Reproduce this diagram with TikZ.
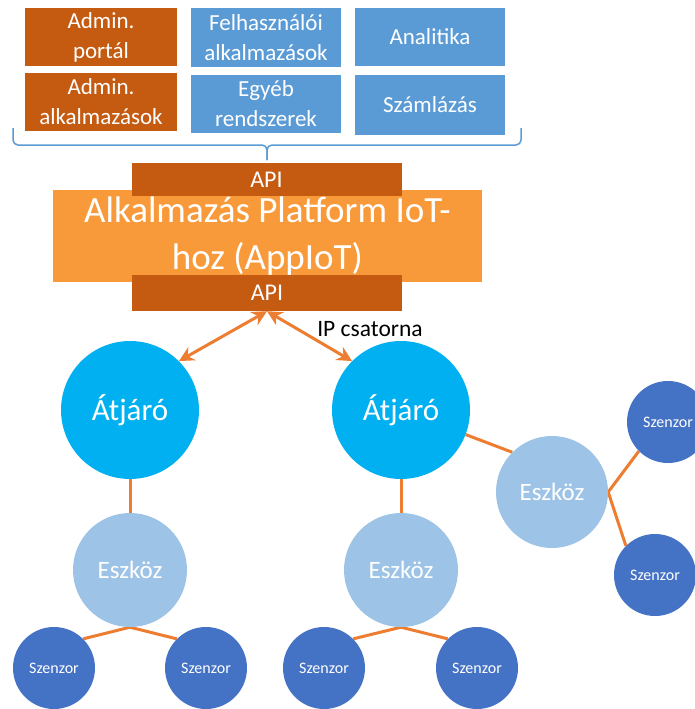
\documentclass[tikz,border=0pt]{standalone}
\usepackage{fontspec}
\setmainfont{Carlito}
\usetikzlibrary{arrows.meta}
\pgfdeclarelayer{background}
\pgfsetlayers{background,main}

\definecolor{darkor}{HTML}{C55A11}
\definecolor{bluebox}{HTML}{5B9BD5}
\definecolor{platform}{HTML}{F8993A}
\definecolor{gwblue}{HTML}{00B0F0}
\definecolor{devblue}{HTML}{9DC3E6}
\definecolor{sensblue}{HTML}{4472C4}
\definecolor{linkor}{HTML}{ED7D31}

\begin{document}
\begin{tikzpicture}[x=1pt,y=-1pt,
  appbox/.style={inner sep=0pt, text=white, align=center,
    font=\fontsize{23}{30}\selectfont},
  adminbox/.style={appbox, fill=darkor, minimum width=152pt, minimum height=58pt},
  userbox/.style={appbox, fill=bluebox, minimum width=150pt, minimum height=58pt},
  apibox/.style={inner sep=0pt, fill=darkor, text=white, minimum width=270pt,
    font=\fontsize{24}{29}\selectfont},
  gateway/.style={circle, fill=gwblue, minimum size=138pt, inner sep=0pt,
    text=white, font=\fontsize{31}{36}\selectfont},
  device/.style={circle, fill=devblue, minimum size=114pt, inner sep=0pt,
    text=white, font=\fontsize{25}{30}\selectfont},
  sensor/.style={circle, fill=sensblue, minimum size=82pt, inner sep=0pt,
    text=white, font=\fontsize{16}{20}\selectfont},
  link/.style={draw=linkor, line width=3pt},
  iparrow/.style={link, {Stealth[length=15pt,width=15pt,inset=5pt]}-{Stealth[length=15pt,width=15pt,inset=5pt]}},
]
\useasboundingbox (0,0) rectangle (694,709);

% application layer
\node[adminbox] (portal)    at (101,37)  {Admin.\\portál};
\node[adminbox] (adminapps) at (101,102) {Admin.\\alkalmazások};
\node[userbox, minimum height=59pt] (userapps) at (266,37.5) {Felhasználói\\alkalmazások};
\node[userbox] (other)      at (266,104) {Egyéb\\rendszerek};
\node[userbox] (analytics)  at (430,37)  {Analitika};
\node[userbox, minimum height=60pt] (billing) at (430,105) {Számlázás};

% brace collecting the applications
\draw[bluebox, line width=1.5pt, rounded corners=5pt]
  (13,128) |- (267,145) -- (267,160);
\draw[bluebox, line width=1.5pt, rounded corners=5pt]
  (521,128) |- (267,145) -- (267,160);

% platform with its two API layers
\node[fill=platform, minimum width=429pt, minimum height=92pt, inner sep=0pt,
      text=white, align=center, font=\fontsize{37}{47}\selectfont]
  (platform) at (267.5,236) {Alkalmazás Platform IoT-\\hoz (AppIoT)};
\node[apibox, minimum height=33pt] (apitop) at (266.5,179.5) {API};
\node[apibox, minimum height=36pt] (apibot) at (267,293) {API};

% gateways, devices and sensors
\node[gateway] (gw1) at (130,410) {Átjáró};
\node[gateway] (gw2) at (401,410) {Átjáró};
\node[device] (dev1) at (130,570) {Eszköz};
\node[device] (dev2) at (401,570) {Eszköz};
\node[device, minimum size=112pt] (dev3) at (552,492) {Eszköz};
\node[sensor] (s1) at (54,668)  {Szenzor};
\node[sensor] (s2) at (206,668) {Szenzor};
\node[sensor] (s3) at (324,668) {Szenzor};
\node[sensor] (s4) at (477,668) {Szenzor};
\node[sensor] (s5) at (668,422) {Szenzor};
\node[sensor] (s6) at (655,575) {Szenzor};

\node[font=\fontsize{23.5}{28}\selectfont, inner sep=0pt] (iplabel) at (370,329) {IP csatorna};

% connections
\begin{pgfonlayer}{background}
\draw[iparrow] (apibot.south) -- (gw1.north east);
\draw[iparrow] (apibot.south) -- (gw2.north west);
\draw[link] (gw1) -- (dev1);
\draw[link] (gw2) -- (dev2);
\draw[link] (gw2) -- (dev3.north west);
\draw[link] (s1.north east) -- (dev1.south) -- (s2.north west);
\draw[link] (s3.north east) -- (dev2.south) -- (s4.north west);
\draw[link] (s5.south west) -- (dev3.east) -- (s6.north west);
\end{pgfonlayer}
\end{tikzpicture}
\end{document}
